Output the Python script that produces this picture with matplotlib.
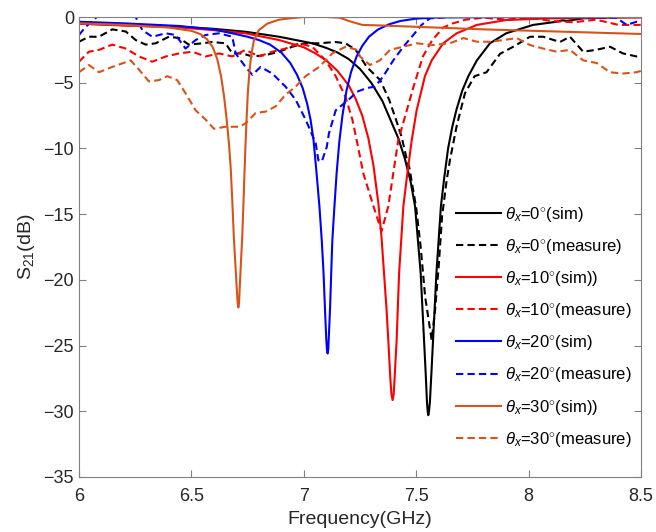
import numpy as np
import matplotlib.pyplot as plt

plt.rcParams['font.family'] = ['Liberation Sans', 'DejaVu Sans']
plt.rcParams['mathtext.fontset'] = 'custom'
plt.rcParams['mathtext.rm'] = 'Liberation Sans'
plt.rcParams['mathtext.it'] = 'Liberation Sans:italic'

# 0 deg, simulated
f0_sim = [6.0, 6.2, 6.445, 6.6, 6.741, 6.89, 7.038, 7.1, 7.15, 7.2, 7.25, 7.3, 7.35, 7.39, 7.42,
          7.45, 7.475, 7.495, 7.52, 7.535, 7.542, 7.548, 7.551, 7.554, 7.557, 7.561, 7.568, 7.575,
          7.59, 7.61, 7.625, 7.642, 7.66, 7.68, 7.705, 7.732, 7.77, 7.828, 7.90, 8.02, 8.125, 8.15,
          8.17, 8.243, 8.39, 8.5]
s0_sim = [-0.5, -0.62, -0.74, -0.9, -1.12, -1.5, -2.0, -2.35, -2.7, -3.2, -3.95, -5.0, -6.4, -8.0, -9.2,
          -10.8, -12.5, -14.4, -19.5, -24.6, -27.0, -29.3, -30.0, -30.3, -30.0, -29.3, -27.0, -24.6,
          -19.5, -14.4, -12.2, -10.0, -8.4, -7.0, -5.6, -4.5, -3.3, -2.0, -1.24, -0.6, -0.36, -0.25,
          -0.3, -0.1, 0.0, 0.0]

# 0 deg, measured
f0_meas = [6.0, 6.044, 6.089, 6.148, 6.208, 6.252, 6.297, 6.341, 6.40, 6.445, 6.489, 6.549, 6.593,
           6.652, 6.682, 6.727, 6.771, 6.83, 6.89, 6.949, 7.008, 7.068, 7.14, 7.186, 7.231, 7.25,
           7.28, 7.34, 7.38, 7.41, 7.435, 7.455, 7.47, 7.50, 7.52, 7.54, 7.569, 7.584, 7.60, 7.615,
           7.635, 7.65, 7.68, 7.717, 7.76, 7.813, 7.873, 7.932, 8.006, 8.065, 8.14, 8.184, 8.243,
           8.30, 8.362, 8.42, 8.48, 8.5]
s0_meas = [-1.88, -1.5, -1.5, -0.94, -1.1, -1.75, -2.1, -2.0, -1.5, -1.6, -2.1, -2.0, -1.9,
           -2.0, -2.77, -2.77, -3.0, -2.9, -2.64, -2.26, -2.0, -2.0, -1.9, -2.0, -2.5, -3.0,
           -3.8, -4.8, -6.3, -7.8, -9.1, -10.6, -11.5, -14.5, -17.5, -21.3, -24.6, -22.3, -19.0, -15.2,
           -12.5, -10.9, -8.3, -5.8, -4.5, -4.2, -2.8, -2.26, -1.5, -1.5, -1.9, -1.5, -2.64,
           -2.5, -2.26, -2.77, -3.0, -2.9]

# 10 deg, simulated
f10_sim = [6.0, 6.2, 6.445, 6.6, 6.741, 6.89, 7.0, 7.05, 7.1, 7.15, 7.2, 7.23, 7.26, 7.287, 7.31,
           7.332, 7.346, 7.357, 7.368, 7.376, 7.385, 7.39, 7.395, 7.4, 7.404, 7.413, 7.424, 7.443,
           7.46, 7.48, 7.502, 7.539, 7.569, 7.62, 7.68, 7.77, 7.90, 8.095, 8.5]
s10_sim = [-0.5, -0.65, -0.79, -1.0, -1.24, -1.75, -2.3, -2.75, -3.3, -4.1, -5.2, -6.2, -7.5, -9.2, -11.3,
           -14.2, -16.8, -19.5, -22.2, -24.6, -27.5, -28.7, -29.15, -28.7, -27.5, -24.6, -19.5, -14.4,
           -12.0, -9.4, -7.1, -4.5, -3.3, -2.0, -1.24, -0.6, -0.23, -0.1, -0.03]

# 10 deg, measured
f10_meas = [6.0, 6.044, 6.089, 6.148, 6.208, 6.267, 6.326, 6.386, 6.445, 6.504, 6.563, 6.623, 6.682,
            6.741, 6.80, 6.86, 6.919, 6.979, 7.038, 7.097, 7.142, 7.186, 7.216, 7.238, 7.265, 7.31,
            7.346, 7.376, 7.398, 7.42, 7.46, 7.49, 7.53, 7.57, 7.62, 7.66, 7.72, 7.80, 7.9, 8.0,
            8.1, 8.2, 8.3, 8.4, 8.5]
s10_meas = [-3.4, -2.64, -2.5, -2.1, -2.4, -3.0, -3.4, -3.0, -2.77, -2.64, -3.0, -2.77, -3.0,
            -2.5, -3.0, -2.64, -2.4, -2.0, -2.26, -3.3, -4.5, -6.1, -7.8, -9.6, -11.9, -14.4,
            -16.3, -14.4, -11.9, -9.4, -7.0, -5.2, -3.0, -1.8, -0.8, -0.5, -0.2, -0.05, -0.2, -0.05,
            -0.3, -0.4, -0.2, -0.6, -0.6]

# 20 deg, simulated
f20_sim = [6.0, 6.2, 6.445, 6.6, 6.682, 6.75, 6.8, 6.85, 6.9, 6.94, 6.97, 6.995, 7.015, 7.03, 7.043,
           7.057, 7.07, 7.08, 7.088, 7.094, 7.1, 7.103, 7.106, 7.109, 7.111, 7.117, 7.122, 7.127,
           7.136, 7.146, 7.158, 7.172, 7.19, 7.21, 7.235, 7.26, 7.29, 7.33, 7.38, 7.43, 7.5, 7.6,
           8.0, 8.5]
s20_sim = [-0.36, -0.48, -0.68, -0.95, -1.24, -1.5, -1.75, -2.1, -2.7, -3.5, -4.4, -5.4, -6.6, -7.8, -9.3,
           -11.9, -14.5, -17.0, -19.5, -22.1, -24.5, -25.3, -25.6, -25.3, -24.5, -22.1, -19.5, -17.0,
           -14.5, -11.9, -9.5, -7.5, -5.6, -4.2, -3.0, -2.2, -1.5, -0.95, -0.55, -0.3, -0.12, -0.03,
           0.0, 0.0]

# 20 deg, measured
f20_meas = [6.0, 6.03, 6.074, 6.09, 6.24, 6.252, 6.282, 6.326, 6.386, 6.43, 6.474, 6.519, 6.563,
            6.623, 6.682, 6.697, 6.741, 6.771, 6.808, 6.86, 6.919, 6.964, 7.008, 7.053, 7.065, 7.08,
            7.102, 7.112, 7.142, 7.2055, 7.235, 7.28, 7.317, 7.354, 7.398, 7.443, 7.487, 7.524,
            7.561, 7.65, 8.0, 8.39, 8.436, 8.48, 8.5]
s20_meas = [-1.37, -0.74, -0.1, 0.5, 0.5, 0.0, -1.0, -1.5, -1.24, -1.37, -2.4, -1.75, -1.37,
            -1.24, -1.5, -2.77, -3.8, -4.4, -3.8, -4.3, -5.3, -6.3, -7.8, -9.6, -10.9, -11.0,
            -9.9, -8.85, -7.1, -6.2, -5.7, -5.4, -5.3, -4.5, -3.3, -2.26, -1.37, -0.6,
            -0.1, 0.0, 0.0, -0.05, -0.6, -0.36, -0.45]

# 30 deg, simulated
f30_sim = [6.0, 6.2, 6.4, 6.5, 6.54, 6.57, 6.595, 6.615, 6.632, 6.645, 6.657, 6.667, 6.675, 6.682,
           6.689, 6.697, 6.703, 6.706, 6.709, 6.712, 6.714, 6.719, 6.726, 6.732, 6.737, 6.741, 6.746,
           6.751, 6.758, 6.766, 6.778, 6.80, 6.838, 6.89, 6.95, 7.0, 7.1, 7.16, 7.2, 7.26, 7.354,
           7.8, 8.5]
s30_sim = [-0.48, -0.6, -0.8, -1.05, -1.3, -1.7, -2.3, -3.2, -4.5, -6.0, -7.8, -9.6, -11.5, -14.0,
           -16.8, -19.2, -21.0, -21.8, -22.1, -21.8, -21.0, -19.2, -16.8, -14.0, -11.5, -9.6, -7.6,
           -5.8, -4.2, -2.9, -1.8, -1.0, -0.5, -0.2, -0.08, 0.0, 0.0, -0.05, -0.3, -0.6, -0.65,
           -0.94, -1.29]

# 30 deg, measured
f30_meas = [6.0, 6.044, 6.089, 6.148, 6.23, 6.267, 6.311, 6.356, 6.393, 6.437, 6.474, 6.519, 6.563,
            6.60, 6.652, 6.712, 6.741, 6.786, 6.83, 6.875, 6.919, 6.964, 7.008, 7.068, 7.127, 7.186,
            7.238, 7.25, 7.294, 7.339, 7.383, 7.443, 7.502, 7.576, 7.65, 7.71, 7.77, 7.828, 7.888,
            7.947, 8.006, 8.065, 8.125, 8.184, 8.243, 8.303, 8.362, 8.421, 8.48, 8.5]
s30_meas = [-4.2, -3.65, -4.2, -3.8, -3.3, -4.0, -4.9, -4.8, -4.5, -4.8, -5.8, -7.1, -7.8,
            -8.5, -8.35, -8.35, -8.1, -7.3, -7.2, -6.8, -5.9, -5.3, -4.5, -3.8, -2.77, -2.26,
            -2.5, -3.0, -3.65, -3.3, -2.5, -2.26, -2.0, -2.13, -2.0, -1.6, -1.88, -1.88, -1.75,
            -1.6, -2.13, -2.4, -2.64, -2.5, -3.3, -3.5, -4.2, -4.3, -4.2, -4.1]

orange = '#D95319'
dash = (0, (3.5, 2.0))

fig = plt.figure(figsize=(6.56, 5.32), dpi=100)
ax = fig.add_axes([0.1204, 0.1034, 0.8567, 0.8646])

ax.plot(f0_sim, s0_sim, color='k', lw=1.5, label=r'$\theta_x$=0$^{\circ}$(sim)')
ax.plot(f0_meas, s0_meas, color='k', lw=1.5, ls=dash, label=r'$\theta_x$=0$^{\circ}$(measure)')
ax.plot(f10_sim, s10_sim, color='r', lw=1.5, label=r'$\theta_x$=10$^{\circ}$(sim))')
ax.plot(f10_meas, s10_meas, color='r', lw=1.5, ls=dash, label=r'$\theta_x$=10$^{\circ}$(measure)')
ax.plot(f20_sim, s20_sim, color='b', lw=1.5, label=r'$\theta_x$=20$^{\circ}$(sim)')
ax.plot(f20_meas, s20_meas, color='b', lw=1.5, ls=dash, label=r'$\theta_x$=20$^{\circ}$(measure)')
ax.plot(f30_sim, s30_sim, color=orange, lw=1.5, label=r'$\theta_x$=30$^{\circ}$(sim))')
ax.plot(f30_meas, s30_meas, color=orange, lw=1.5, ls=dash, label=r'$\theta_x$=30$^{\circ}$(measure)')

ax.set_xlim(6, 8.5)
ax.set_ylim(-35, 0)
ax.set_xticks([6, 6.5, 7, 7.5, 8, 8.5])
ax.set_xticklabels(['6', '6.5', '7', '7.5', '8', '8.5'])
ax.set_yticks([0, -5, -10, -15, -20, -25, -30, -35])
ax.tick_params(direction='in', top=True, right=True, labelsize=13, colors='#262626', length=5,
               color='#808080')
ax.tick_params(axis='x', pad=8)
for s in ax.spines.values():
    s.set_color('#808080')
ax.set_xlabel('Frequency(GHz)', fontsize=14, color='#262626', labelpad=4)
ax.set_ylabel(r'S$_{21}$(dB)', fontsize=14, color='#262626', labelpad=5)

ax.legend(loc='upper left', bbox_to_anchor=(0.645, 0.625), frameon=False, fontsize=12,
          handlelength=2.7, labelspacing=0.79, handletextpad=0.2)

fig.savefig('out.png', dpi=100)
